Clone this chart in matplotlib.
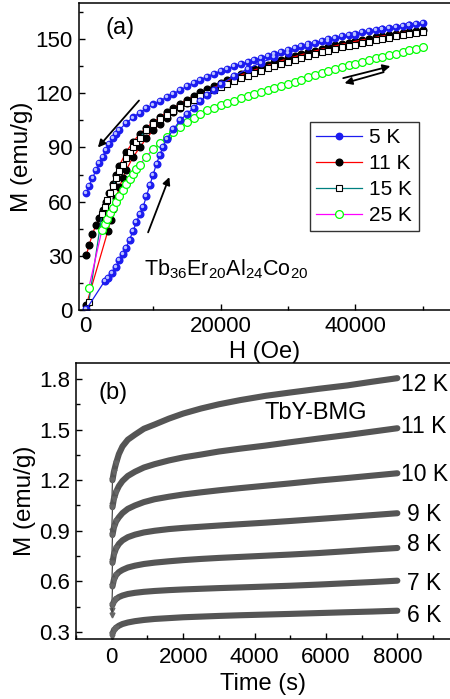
import matplotlib
matplotlib.use("Agg")
import matplotlib.pyplot as plt
from matplotlib.ticker import MultipleLocator
from matplotlib.transforms import offset_copy

plt.rcParams["font.family"] = ["Liberation Sans", "DejaVu Sans"]
plt.rcParams["mathtext.fontset"] = "custom"
plt.rcParams["mathtext.rm"] = "Liberation Sans"
plt.rcParams["mathtext.it"] = "Liberation Sans"

# ---- panel (a): M(H) loops ----
H_DESC = [50000, 49000, 48000, 47000, 46000, 45000, 44000, 43000, 42000, 41000,
          40000, 39000, 38000, 37000, 36000, 35000, 34000, 33000, 32000, 31000,
          30000, 29000, 28000, 27000, 26000, 25000, 24000, 23000, 22000, 21000,
          20000, 19000, 18000, 17000, 16000, 15000, 14000, 13000, 12000, 11000,
          10000, 9000, 8000, 7000, 6000, 5000, 4500, 4000, 3500, 3000,
          2500, 2000, 1500, 1000, 500, 100]
M5_DESC = [159.0, 158.5, 158.0, 157.4, 156.9, 156.3, 155.7, 155.0, 154.4, 153.7,
           153.0, 152.3, 151.5, 150.7, 149.9, 149.0, 148.1, 147.1, 146.1, 145.1,
           144.0, 143.0, 141.9, 140.8, 139.7, 138.5, 137.3, 136.1, 134.9, 133.6,
           132.3, 130.8, 129.2, 127.5, 125.7, 123.8, 121.8, 119.8, 117.8, 115.8,
           113.8, 111.7, 109.3, 106.6, 103.6, 99.8, 97.7, 95.0, 91.8, 88.5,
           85.0, 81.2, 77.3, 73.0, 68.8, 64.7]
M11_DESC = [155.0, 154.5, 154.0, 153.4, 152.8, 152.2, 151.6, 151.0, 150.3, 149.6,
            148.9, 148.1, 147.3, 146.5, 145.6, 144.7, 143.7, 142.7, 141.7, 140.6,
            139.5, 138.3, 137.1, 135.9, 134.6, 133.3, 131.9, 130.5, 129.0, 127.4,
            125.8, 124.1, 122.3, 120.5, 118.5, 116.5, 114.3, 112.0, 109.5, 106.8,
            104.0, 101.0, 97.5, 93.0, 87.5, 80.0, 75.0, 70.0, 65.0, 60.0,
            55.5, 51.0, 47.0, 42.0, 36.0, 30.5]

H5_VIRGIN = [100, 2800, 3300, 3900, 4500, 5000, 5500, 6000, 6500, 7000, 7500, 8000,
             8500, 9000, 9500, 10000, 10500, 11000, 11500, 12000, 13000, 14000,
             15000, 16000, 17000, 18000, 19000, 20000, 22000, 24000, 26000, 28000,
             30000, 33000, 36000, 40000, 44000, 48000]
M5_VIRGIN = [0.5, 16.0, 18.0, 20.5, 24.0, 27.5, 31.0, 34.5, 39.0, 43.5, 48.5, 53.0,
             57.0, 63.0, 69.0, 75.0, 81.0, 86.0, 90.5, 94.5, 100.0, 105.0,
             108.5, 112.0, 115.5, 119.0, 122.0, 125.0, 129.5, 133.5, 137.0, 140.0,
             142.5, 146.0, 149.0, 152.5, 155.5, 158.0]

H11_VIRGIN = [100, 3300, 3700, 4100, 4500, 5000, 5500, 6000, 7000, 8000, 9000,
              10000, 11000, 12000, 13000, 14000, 15000, 16000, 18000, 20000, 22000,
              24000, 26000, 28000, 30000, 33000, 36000, 39000, 42000, 45000, 48000]
M11_VIRGIN = [3.0, 44.0, 50.0, 56.0, 62.0, 68.0, 73.0, 77.5, 84.5, 90.0, 95.0,
              99.5, 103.0, 106.5, 109.5, 112.0, 114.5, 117.0, 121.0, 125.0, 128.5,
              131.5, 134.2, 136.8, 139.2, 142.4, 145.4, 148.0, 150.3, 152.4, 154.2]

H_HIGHT = [450, 2400, 2800, 3200, 3600, 4000, 4500, 5000, 5500, 6000, 6500, 7000,
           7500, 8000, 9000, 10000, 11000, 12000, 13000, 14000, 15000, 16000,
           17000, 18000, 19000, 20000, 21000, 22000, 23000, 24000, 25000, 26000,
           27000, 28000, 29000, 30000, 31000, 32000, 33000, 34000, 35000, 36000,
           37000, 38000, 39000, 40000, 41000, 42000, 43000, 44000, 45000, 46000,
           47000, 48000, 49000, 50000]
M15 = [4.4, 53.0, 57.0, 61.0, 65.0, 68.5, 73.0, 77.0, 80.5, 84.0, 87.5, 90.5,
       93.0, 95.5, 99.5, 102.8, 105.5, 108.0, 110.3, 112.5, 114.5, 116.5,
       118.3, 120.0, 121.7, 123.3, 125.0, 126.7, 128.3, 129.8, 131.2, 132.6,
       133.9, 135.1, 136.3, 137.5, 138.6, 139.7, 140.7, 141.7, 142.7, 143.6,
       144.5, 145.4, 146.2, 147.0, 147.8, 148.6, 149.4, 150.1, 150.8, 151.5,
       152.2, 152.8, 153.4, 154.0]
M25 = [12.2, 44.3, 47.5, 50.5, 53.5, 56.5, 60.0, 63.3, 66.5, 69.5, 72.5, 75.5,
       78.0, 80.5, 85.0, 89.0, 92.5, 95.8, 98.8, 101.5, 104.0, 106.3,
       108.5, 110.5, 112.1, 113.5, 114.8, 116.0, 117.2, 118.3, 119.4, 120.6,
       121.8, 123.0, 124.1, 125.2, 126.4, 127.6, 128.8, 130.0, 131.1, 132.2,
       133.3, 134.4, 135.4, 136.4, 137.4, 138.4, 139.3, 140.2, 141.1, 142.0,
       142.9, 143.8, 144.7, 145.5]

# ---- panel (b): relaxation curves ----
TIME = [0, 20, 60, 120, 200, 300, 450, 650, 900, 1200, 1600, 2000, 2500, 3000,
        3600, 4300, 5000, 5800, 6600, 7300, 8000]
RELAX = {
    "12 K": [1.05, 1.20, 1.25, 1.30, 1.355, 1.40, 1.44, 1.47, 1.505, 1.53, 1.565,
             1.595, 1.625, 1.65, 1.675, 1.70, 1.72, 1.742, 1.762, 1.784, 1.805],
    "11 K": [0.90, 1.04, 1.09, 1.13, 1.165, 1.195, 1.225, 1.25, 1.275, 1.295, 1.317,
             1.335, 1.352, 1.37, 1.387, 1.405, 1.425, 1.447, 1.468, 1.488, 1.508],
    "10 K": [0.72, 0.875, 0.92, 0.955, 0.98, 1.005, 1.03, 1.05, 1.07, 1.087, 1.102,
             1.115, 1.128, 1.14, 1.153, 1.167, 1.181, 1.198, 1.213, 1.227, 1.241],
    "9 K": [0.57, 0.71, 0.76, 0.795, 0.822, 0.843, 0.862, 0.877, 0.89, 0.90, 0.91,
            0.917, 0.924, 0.931, 0.939, 0.948, 0.958, 0.97, 0.982, 0.993, 1.004],
    "8 K": [0.43, 0.57, 0.61, 0.637, 0.655, 0.668, 0.682, 0.693, 0.703, 0.711, 0.719,
            0.726, 0.733, 0.739, 0.745, 0.752, 0.759, 0.768, 0.779, 0.789, 0.798],
    "7 K": [0.40, 0.46, 0.48, 0.495, 0.507, 0.516, 0.525, 0.532, 0.538, 0.543, 0.548,
            0.552, 0.556, 0.56, 0.564, 0.569, 0.574, 0.581, 0.589, 0.596, 0.604],
    "6 K": [0.27, 0.29, 0.31, 0.325, 0.337, 0.347, 0.356, 0.364, 0.371, 0.377, 0.382,
            0.387, 0.391, 0.395, 0.399, 0.403, 0.407, 0.412, 0.417, 0.421, 0.426],
}
LABEL_POS = {
    "12 K": (8110, 1.765), "11 K": (8110, 1.516), "10 K": (8110, 1.231),
    "9 K": (8280, 0.994), "8 K": (8280, 0.816), "7 K": (8280, 0.59), "6 K": (8280, 0.40),
}

BLUE = "#1c1cf0"
GREY = "#555555"

fig = plt.figure(figsize=(4.5, 6.99), dpi=100)
ax1 = fig.add_axes([0.1756, 0.5565, 0.8267, 0.4392])
ax2 = fig.add_axes([0.169, 0.0858, 0.833, 0.3949])

for ax in (ax1, ax2):
    ax.spines["right"].set_visible(False)
    ax.tick_params(which="both", direction="in", top=False, right=False, labelsize=16, width=1)
    ax.tick_params(which="major", length=4.5, pad=4.5)
    ax.tick_params(which="minor", length=3)
    for s in ax.spines.values():
        s.set_linewidth(1.1)

# panel (a)
l11, = ax1.plot(H_DESC, M11_DESC, "-o", color="red", lw=0.9, ms=4.8,
                mfc="black", mec="black", label="11 K")
ax1.plot(H11_VIRGIN, M11_VIRGIN, "-o", color="red", lw=0.9, ms=4.8, mfc="black", mec="black")
l15, = ax1.plot(H_HIGHT, M15, "-s", color="#008080", lw=0.9, ms=4.9,
                mfc="white", mec="black", mew=0.8, label="15 K")
l25, = ax1.plot(H_HIGHT, M25, "-o", color="magenta", lw=0.9, ms=5.6,
                mfc="white", mec="#00ff00", mew=0.9, label="25 K")
l5, = ax1.plot(H_DESC, M5_DESC, "-o", color=BLUE, lw=0.9, ms=4.6, mfc=BLUE, mec=BLUE, label="5 K")
ax1.plot(H5_VIRGIN, M5_VIRGIN, "-o", color=BLUE, lw=0.9, ms=4.8, mfc=BLUE, mec=BLUE)
hl = offset_copy(ax1.transData, fig=fig, x=-0.7, y=0.7, units="points")
ax1.plot(H_DESC, M5_DESC, "o", ms=1.4, color="#b8c0ff", transform=hl)
ax1.plot(H5_VIRGIN, M5_VIRGIN, "o", ms=1.4, color="#b8c0ff", transform=hl)

ax1.set_xlim(-1000, 54200)
ax1.set_ylim(0, 170)
ax1.xaxis.set_major_locator(MultipleLocator(20000))
ax1.xaxis.set_minor_locator(MultipleLocator(10000))
ax1.yaxis.set_major_locator(MultipleLocator(30))
ax1.yaxis.set_minor_locator(MultipleLocator(15))
ax1.set_xlabel("H (Oe)", fontsize=17, labelpad=3)
ax1.set_ylabel("M (emu/g)", fontsize=17.5, labelpad=2)

arrow = dict(arrowstyle="-|>", color="black", lw=1.3, mutation_scale=11, shrinkA=0, shrinkB=0)
ax1.annotate("", xy=(1800, 90), xytext=(7900, 116), arrowprops=arrow)
ax1.annotate("", xy=(12400, 73.6), xytext=(9250, 43), arrowprops=arrow)
ax1.annotate("", xy=(45200, 135), xytext=(38200, 128.4), arrowprops=arrow)
ax1.annotate("", xy=(38400, 125.6), xytext=(44200, 131.7), arrowprops=arrow)

ax1.text(3000, 156, "(a)", fontsize=17, va="center")
ax1.text(8700, 19.4, r"Tb$_{36}$Er$_{20}$Al$_{24}$Co$_{20}$", fontsize=15.5, va="baseline")

leg = ax1.legend(handles=[l5, l11, l15, l25], loc="upper left", bbox_to_anchor=(0.621, 0.612),
                 fontsize=15, frameon=True, fancybox=False, edgecolor="black",
                 handlelength=2.2, handletextpad=0.35, labelspacing=0.33,
                 borderpad=0.3, borderaxespad=0)
leg.get_frame().set_linewidth(1.0)

# panel (b)
for name, vals in RELAX.items():
    ax2.plot(TIME, vals, color="#333333", lw=0.8)
    ax2.plot(TIME[1:], vals[1:], color=GREY, lw=4.4, solid_capstyle="round")
    ax2.plot(TIME[:4], vals[:4], "v", ms=3.5, color="#666666")
    x, y = LABEL_POS[name]
    ax2.text(x, y, name, fontsize=16.5, va="center")

ax2.set_xlim(-1000, 9500)
ax2.set_ylim(0.258, 1.895)
ax2.xaxis.set_major_locator(MultipleLocator(2000))
ax2.xaxis.set_minor_locator(MultipleLocator(1000))
ax2.yaxis.set_major_locator(MultipleLocator(0.3))
ax2.yaxis.set_minor_locator(MultipleLocator(0.15))
ax2.yaxis.set_major_formatter(plt.FuncFormatter(lambda v, p: f"{v:.1f}"))
ax2.tick_params(axis="x", which="major", pad=6)
ax2.set_xlabel("Time (s)", fontsize=17, labelpad=3)
ax2.set_ylabel("M (emu/g)", fontsize=17.5, labelpad=2)
ax2.text(-380, 1.717, "(b)", fontsize=17, va="center")
ax2.text(4280, 1.599, "TbY-BMG", fontsize=17, va="center")

fig.savefig("out.png", dpi=100)
